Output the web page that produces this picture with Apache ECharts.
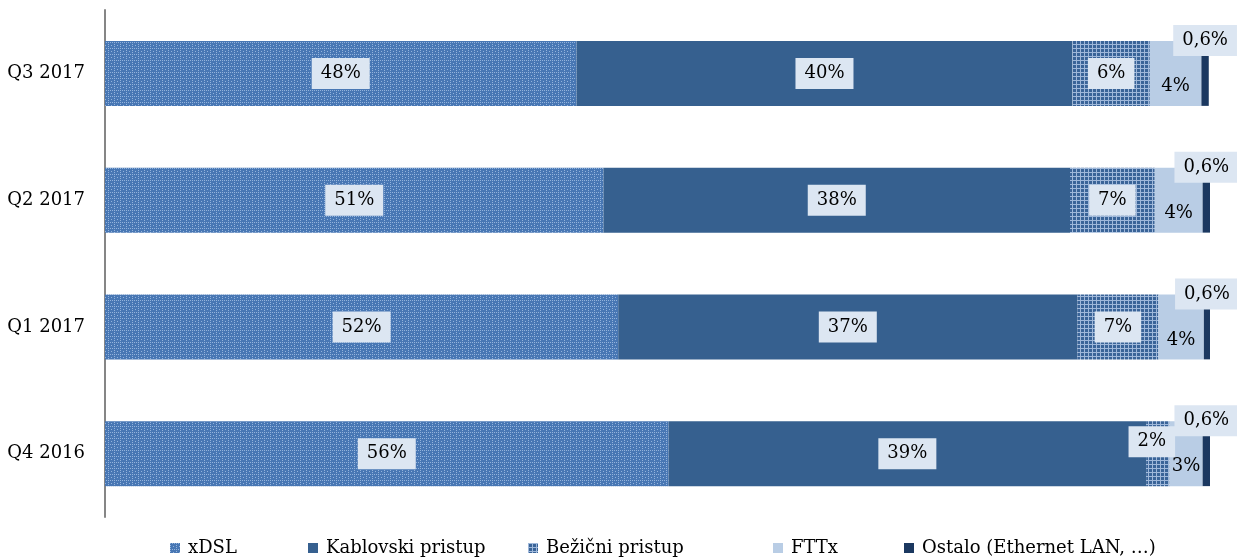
<!DOCTYPE html>
<html>
<head>
<meta charset="utf-8">
<script src="https://cdn.jsdelivr.net/npm/echarts@6/dist/echarts.min.js"></script>
<style>
  html, body { margin: 0; padding: 0; background: #fff; }
  #chart { width: 1237px; height: 559px; }
</style>
</head>
<body>
<div id="chart"></div>
<script>
// bottom to top, as the category axis draws them
const categories = ["Q4 2016", "Q1 2017", "Q2 2017", "Q3 2017"];
const seriesNames = ["xDSL", "Kablovski pristup", "Bežični pristup", "FTTx", "Ostalo (Ethernet LAN, …)"];
const xdsl = [55.9, 51.8, 50.6, 48.4];
const kablovski = [38.9, 37.4, 38.0, 40.4];
const bezicni = [1.9, 6.6, 6.9, 6.3];
const fttx = [2.7, 3.7, 3.9, 4.2];
const ostalo = [0.6, 0.6, 0.6, 0.6];

// legend entry positions, Excel spaces them unevenly
const legendLefts = [170, 308, 528, 773, 904];

// small tiles for the hatched fills
function makePattern(size, base, light, draw) {
  const c = document.createElement("canvas");
  c.width = size;
  c.height = size;
  const ctx = c.getContext("2d");
  ctx.fillStyle = base;
  ctx.fillRect(0, 0, size, size);
  ctx.fillStyle = light;
  draw(ctx);
  return { image: c, repeat: "repeat" };
}

const xdslFill = makePattern(6, "#4877b4", "#93b3dc", (ctx) => {
  ctx.fillRect(0, 0, 1, 1);
  ctx.fillRect(2, 0, 1, 1);
  ctx.fillRect(4, 0, 1, 1);
  ctx.fillRect(0, 2, 1, 1);
  ctx.fillRect(0, 4, 1, 1);
  ctx.fillRect(3, 3, 1, 1);
});
const bezFill = makePattern(4, "#3a6498", "#9fb8da", (ctx) => {
  ctx.fillRect(0, 0, 4, 1);
  ctx.fillRect(0, 0, 1, 4);
});

const chart = echarts.init(document.getElementById("chart"));

const labelBox = {
  show: true,
  position: "inside",
  color: "#000",
  fontFamily: "DejaVu Serif",
  fontSize: 18,
  backgroundColor: "#dce6f2",
  padding: [7, 9, 6, 9],
  formatter: (p) => Math.round(p.value) + "%",
};

function bar(name, data, color, label) {
  return {
    name: name,
    type: "bar",
    stack: "total",
    barWidth: 65,
    data: data,
    itemStyle: { color: color },
    label: label,
  };
}

chart.setOption({
  animation: false,
  textStyle: { fontFamily: "DejaVu Serif" },
  grid: { left: 105, right: 27, top: 10, bottom: 42 },
  xAxis: {
    type: "value",
    min: 10,
    max: 100,
    show: false,
  },
  yAxis: {
    type: "category",
    data: categories,
    axisTick: { show: false },
    axisLine: { lineStyle: { color: "#868686", width: 2 } },
    axisLabel: { color: "#000", fontSize: 18, margin: 20 },
  },
  legend: seriesNames.map((n, i) => ({
    bottom: 2,
    left: legendLefts[i],
    padding: 0,
    icon: "rect",
    itemWidth: 10,
    itemHeight: 10,
    textStyle: {
      color: "#000",
      fontSize: 18,
      fontFamily: "DejaVu Serif",
      padding: [0, 0, 0, 3],
    },
    data: [n],
  })),
  series: [
    bar(seriesNames[0], xdsl, xdslFill, labelBox),
    bar(seriesNames[1], kablovski, "#36608f", labelBox),
    bar(
      seriesNames[2],
      bezicni.map((v) =>
        v < 3 ? { value: v, label: { offset: [-6, -12] } } : v
      ),
      bezFill,
      labelBox
    ),
    bar(seriesNames[3], fttx, "#b9cde5", {
      show: true,
      position: "inside",
      offset: [0, 13],
      color: "#000",
      fontFamily: "DejaVu Serif",
      fontSize: 18,
      formatter: (p) => Math.round(p.value) + "%",
    }),
    bar(seriesNames[4], ostalo, "#1b3860", {
      show: true,
      position: "inside",
      offset: [0, -33],
      color: "#000",
      fontFamily: "DejaVu Serif",
      fontSize: 18,
      backgroundColor: "#dce6f2",
      padding: [7, 9, 6, 9],
      formatter: (p) => p.value.toFixed(1).replace(".", ",") + "%",
    }),
  ],
});
</script>
</body>
</html>
